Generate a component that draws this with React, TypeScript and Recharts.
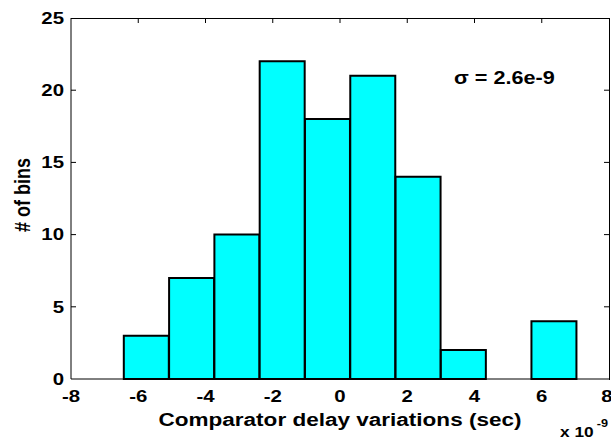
import React from 'react';
import { BarChart, Bar, XAxis, YAxis } from 'recharts';

// bin centres (x 1e-9 s) and counts
const binCenters = [-5.756, -4.409, -3.062, -1.715, -0.368, 0.979, 2.326, 3.673, 5.02, 6.367];
const binCounts = [3, 7, 10, 22, 18, 21, 14, 2, 0, 4];
const xTicks = [-8, -6, -4, -2, 0, 2, 4, 6, 8];
const yTicks = [0, 5, 10, 15, 20, 25];
const sigmaText = 'σ = 2.6e-9';

const data = binCenters.map((x, i) => ({ x, count: binCounts[i] }));

const FONT = '"Liberation Sans", Arial, Helvetica, sans-serif';
const STRETCH = 1.2; // the original figure is a bit wider than tall

const W = 611;
const H = 440;
const MARGIN = { top: 18, right: 2, bottom: 0, left: 0 };
const Y_AXIS_W = 71;
const X_AXIS_H = 61;
const PLOT_W = W - MARGIN.left - MARGIN.right - Y_AXIS_W;
const PLOT_H = H - MARGIN.top - MARGIN.bottom - X_AXIS_H;
const Y_TICK_GAP = 7;
const X_TICK_GAP = 11;
const TICK_LEN = 5;

// left labels + inward ticks on left and right
const LeftTick = (props: any) => {
  const { x, y, payload } = props;
  const axisX = Number(x) + Y_TICK_GAP;
  const rightX = axisX + PLOT_W;
  const yy = Number(y);
  const v = Number(payload.value);
  const inner = v > yTicks[0] && v < yTicks[yTicks.length - 1];
  return (
    <g>
      <text
        transform={`translate(${x} ${y}) scale(${STRETCH} 1)`}
        textAnchor="end"
        dominantBaseline="central"
        fontFamily={FONT}
        fontWeight="bold"
        fontSize={17}
        fill="#000"
      >
        {payload.value}
      </text>
      {inner && (
        <>
          <rect x={axisX} y={yy - 0.5} width={TICK_LEN} height={1} fill="#000" />
          <rect x={rightX - TICK_LEN} y={yy - 0.5} width={TICK_LEN} height={1} fill="#000" />
        </>
      )}
    </g>
  );
};

// bottom labels + inward ticks along the top edge
const BottomTick = (props: any) => {
  const { x, y, payload } = props;
  const xx = Number(x);
  const topY = Number(y) - X_TICK_GAP - PLOT_H;
  const v = Number(payload.value);
  const inner = v > xTicks[0] && v < xTicks[xTicks.length - 1];
  return (
    <g>
      <text
        transform={`translate(${x} ${y}) scale(${STRETCH} 1)`}
        textAnchor="middle"
        dominantBaseline="hanging"
        fontFamily={FONT}
        fontWeight="bold"
        fontSize={17}
        fill="#000"
      >
        {payload.value}
      </text>
      {inner && <rect x={xx - 0.5} y={topY} width={1} height={TICK_LEN} fill="#000" />}
    </g>
  );
};

export default function App() {
  return (
    <div style={{ position: 'absolute', left: 0, top: 0, width: W, height: H, background: '#fff' }}>
      <BarChart
        width={W}
        height={H}
        data={data}
        margin={MARGIN}
        barCategoryGap={0}
        barGap={0}
      >
        <XAxis
          dataKey="x"
          type="number"
          domain={[-8, 8]}
          ticks={xTicks}
          height={X_AXIS_H}
          tickLine={false}
          tickSize={0}
          tickMargin={X_TICK_GAP}
          axisLine={{ stroke: '#000', strokeWidth: 1 }}
          tick={<BottomTick />}
          label={{
            content: () => (
              <text
                x={340}
                y={426}
                textAnchor="middle"
                textLength={363}
                lengthAdjust="spacingAndGlyphs"
                fontFamily={FONT}
                fontWeight="bold"
                fontSize={18}
                fill="#000"
              >
                Comparator delay variations (sec)
              </text>
            ),
          }}
        />
        <YAxis
          type="number"
          domain={[0, 25]}
          ticks={yTicks}
          width={Y_AXIS_W}
          tickLine={false}
          tickSize={0}
          tickMargin={Y_TICK_GAP}
          axisLine={{ stroke: '#000', strokeWidth: 1 }}
          tick={<LeftTick />}
          label={{
            content: () => (
              <text
                transform={`translate(22 195) scale(${STRETCH} 1) rotate(-90)`}
                textAnchor="middle"
                dominantBaseline="central"
                fontFamily={FONT}
                fontWeight="bold"
                fontSize={18}
                fill="#000"
              >
                # of bins
              </text>
            ),
          }}
        />
        <Bar
          dataKey="count"
          fill="#00ffff"
          stroke="#000"
          strokeWidth={2}
          barSize={45}
          isAnimationActive={false}
        />
      </BarChart>
      {/* top and right edges of the matlab box */}
      <div
        style={{
          position: 'absolute',
          left: MARGIN.left + Y_AXIS_W,
          top: MARGIN.top,
          width: PLOT_W + 1,
          height: PLOT_H + 1,
          boxSizing: 'border-box',
          borderTop: '1px solid #000',
          borderRight: '1px solid #000',
          pointerEvents: 'none',
        }}
      />
      <div
        style={{
          position: 'absolute',
          left: 454,
          top: 69,
          fontFamily: FONT,
          fontWeight: 'bold',
          fontSize: 18,
          lineHeight: '18px',
          whiteSpace: 'nowrap',
          transform: `scaleX(${STRETCH})`,
          transformOrigin: 'left top',
        }}
      >
        {sigmaText}
      </div>
      <div
        style={{
          position: 'absolute',
          left: 560,
          top: 424,
          fontFamily: FONT,
          fontWeight: 'bold',
          fontSize: 15,
          lineHeight: '15px',
          whiteSpace: 'nowrap',
          transform: 'scaleX(1.15)',
          transformOrigin: 'left top',
        }}
      >
        x 10
        <span style={{ position: 'absolute', left: 32, top: -8, fontSize: 11 }}>-9</span>
      </div>
    </div>
  );
}
